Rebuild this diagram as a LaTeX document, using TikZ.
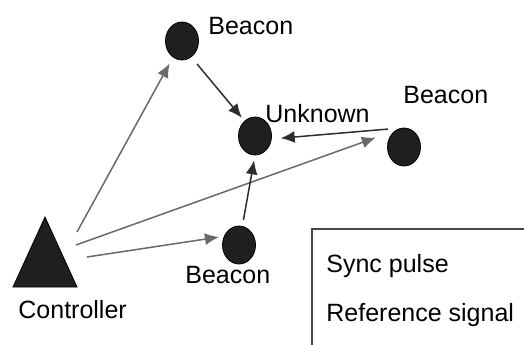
\documentclass[tikz,border=0pt]{standalone}
\usepackage{fontspec}
\setmainfont{Liberation Sans}
\usetikzlibrary{shapes.geometric,arrows.meta}
\definecolor{pulsegray}{RGB}{105,105,108}
\definecolor{refgray}{RGB}{45,45,48}
\tikzstyle{beacon} = [draw=black, fill=black!88, ellipse, minimum width=16.5pt, minimum height=19pt, inner sep=0pt]
\tikzstyle{lbl} = [font=\fontsize{12.5}{15}\selectfont, inner sep=0pt, anchor=base west]
\tikzstyle{pulse} = [draw=pulsegray, line width=0.75pt, -{Latex[length=7pt,width=6pt]}]
\tikzstyle{refsig} = [draw=refgray, line width=0.75pt, -{Latex[length=7pt,width=6pt]}]
\tikzstyle{legendbox} = [draw=black!72, line width=0.9pt, rectangle, anchor=north west, minimum width=120pt, minimum height=70pt]

\begin{document}
\begin{tikzpicture}[x=0.5pt,y=-0.5pt]
\useasboundingbox (0,0) rectangle (524,344);

% controller and where its pulses leave
\fill[black!88] (45,217) -- (77,287) -- (13,287) -- cycle;
\draw[black, line width=0.4pt] (45,217) -- (77,287) -- (13,287) -- cycle;
\coordinate (c1) at (77,232);
\coordinate (c2) at (76,245);
\coordinate (c3) at (87,257);
\node[lbl] (ctrllbl) at (18,318) {Controller};

% beacons and the unknown node
\node[beacon] (tb) at (182,41) {};
\node[beacon] (rb) at (404,147) {};
\node[beacon] (bb) at (239,245) {};
\node[beacon] (unk) at (255,136) {};
\node[lbl] (tblbl) at (208,34) {Beacon};
\node[lbl] (rblbl) at (403,103) {Beacon};
\node[lbl] (bblbl) at (185,283) {Beacon};
\node[lbl] (unklbl) at (265,122) {Unknown};

% sync pulses
\draw[pulse, shorten >=3.5pt] (c1) -- (tb);
\draw[pulse, shorten >=10pt] (c2) -- (rb.120);
\draw[pulse, shorten >=2.5pt] (c3) -- (bb.150);

% reference signals
\draw[refsig, shorten <=4.5pt, shorten >=2pt] (tb.-60) -- (unk.125);
\draw[refsig, shorten <=6.4pt, shorten >=4.5pt] (rb.100) -- (unk.-10);
\draw[refsig, shorten <=3pt, shorten >=2.5pt] (bb.80) -- (unk.south);

% legend
\node[legendbox] (legend) at (311,228) {};
\node[lbl] (synclbl) at (326,272) {Sync pulse};
\node[lbl] (reflbl) at (326,321) {Reference signal};
\end{tikzpicture}
\end{document}
